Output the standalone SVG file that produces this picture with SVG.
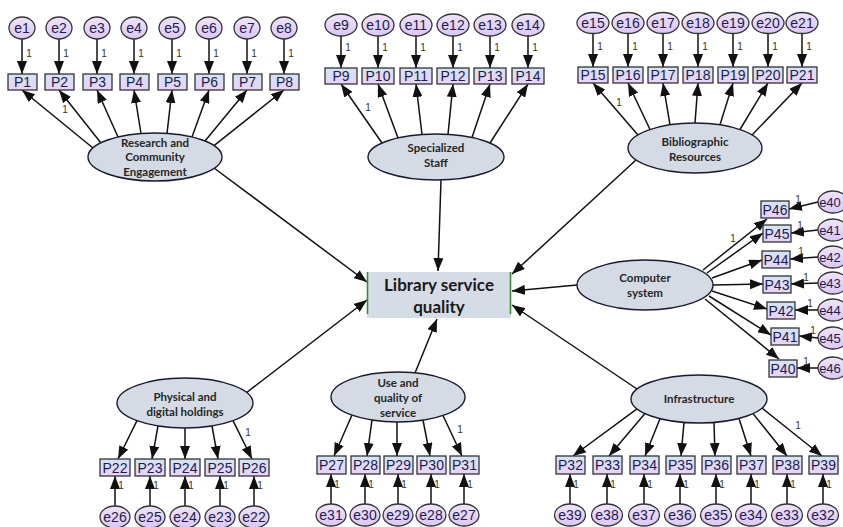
<svg xmlns="http://www.w3.org/2000/svg" width="843" height="527" viewBox="0 0 843 527">
<defs>
<linearGradient id="gBox" x1="0" y1="0" x2="0" y2="1"><stop offset="0" stop-color="#d3e4f6"/><stop offset="1" stop-color="#e9d2f6"/></linearGradient>
<linearGradient id="gErr" x1="0" y1="0" x2="0" y2="1"><stop offset="0" stop-color="#efe4fb"/><stop offset="1" stop-color="#dcc6f2"/></linearGradient>
<marker id="ah" markerUnits="userSpaceOnUse" markerWidth="13" markerHeight="10" refX="13" refY="5" orient="auto"><path d="M0,0 L13,5 L0,10 z" fill="#111"/></marker>
<style>
.c line{stroke:#111;stroke-width:1.5;marker-end:url(#ah)}
.obs rect{fill:url(#gBox);stroke:#333;stroke-width:1.3}
.err ellipse{fill:url(#gErr);stroke:#333;stroke-width:1.3}
.obs text,.err text{font-family:"Liberation Sans",Arial,sans-serif;font-size:14px;fill:#1c1c4e;text-anchor:middle;dominant-baseline:central}
.err text.edge{font-size:13px}
.lat ellipse{fill:#d5dbe5;stroke:#1a1a2e;stroke-width:1.4}
.lat text{font-family:Lato,"Open Sans",sans-serif;font-weight:bold;font-size:11.5px;fill:#262626;text-anchor:middle}
.w{font-family:"Liberation Sans",Arial,sans-serif;font-size:10px;fill:#333;text-anchor:middle;dominant-baseline:central}
</style>
</defs>
<rect width="843" height="527" fill="#fff"/>

<g id="connectors" class="c">
<line x1="214" y1="168" x2="367" y2="282"/>
<line x1="246" y1="393" x2="367" y2="300"/>
<line x1="441" y1="180" x2="438" y2="271"/>
<line x1="415" y1="373" x2="437" y2="319"/>
<line x1="636" y1="160" x2="512" y2="274"/>
<line x1="577" y1="285" x2="512" y2="291"/>
<line x1="637" y1="389" x2="512" y2="305"/>
<line x1="93" y1="148" x2="22" y2="90"/>
<line x1="101" y1="143" x2="59" y2="90"/>
<line x1="118" y1="137" x2="97" y2="90"/>
<line x1="141" y1="133.5" x2="134" y2="90"/>
<line x1="167" y1="133.4" x2="172" y2="90"/>
<line x1="192" y1="137" x2="209" y2="90"/>
<line x1="205" y1="141" x2="247" y2="90"/>
<line x1="214" y1="145.6" x2="284" y2="90"/>
<line x1="22" y1="38.5" x2="22" y2="74"/>
<line x1="59" y1="38.5" x2="59" y2="74"/>
<line x1="97" y1="38.5" x2="97" y2="74"/>
<line x1="134" y1="38.5" x2="134" y2="74"/>
<line x1="172" y1="38.5" x2="172" y2="74"/>
<line x1="209" y1="38.5" x2="209" y2="74"/>
<line x1="247" y1="38.5" x2="247" y2="74"/>
<line x1="284" y1="38.5" x2="284" y2="74"/>
<line x1="382" y1="143" x2="341" y2="84"/>
<line x1="398" y1="138" x2="378" y2="84"/>
<line x1="422" y1="134.5" x2="416" y2="84"/>
<line x1="448" y1="134.4" x2="453" y2="84"/>
<line x1="472" y1="137.5" x2="490" y2="84"/>
<line x1="490" y1="143" x2="528" y2="84"/>
<line x1="341" y1="35.5" x2="341" y2="68"/>
<line x1="378" y1="35.5" x2="378" y2="68"/>
<line x1="416" y1="35.5" x2="416" y2="68"/>
<line x1="453" y1="35.5" x2="453" y2="68"/>
<line x1="490" y1="35.5" x2="490" y2="68"/>
<line x1="528" y1="35.5" x2="528" y2="68"/>
<line x1="638" y1="135" x2="593" y2="83"/>
<line x1="650" y1="129.5" x2="628" y2="83"/>
<line x1="670" y1="124.8" x2="663" y2="83"/>
<line x1="695" y1="123" x2="698" y2="83"/>
<line x1="720" y1="124.8" x2="733" y2="83"/>
<line x1="740" y1="129.5" x2="768" y2="83"/>
<line x1="752" y1="135" x2="802" y2="83"/>
<line x1="593" y1="33" x2="593" y2="67"/>
<line x1="628" y1="33" x2="628" y2="67"/>
<line x1="663" y1="33" x2="663" y2="67"/>
<line x1="698" y1="33" x2="698" y2="67"/>
<line x1="733" y1="33" x2="733" y2="67"/>
<line x1="768" y1="33" x2="768" y2="67"/>
<line x1="802" y1="33" x2="802" y2="67"/>
<line x1="703" y1="270" x2="767" y2="219"/>
<line x1="707" y1="273" x2="763" y2="233"/>
<line x1="712" y1="278" x2="762" y2="260"/>
<line x1="713" y1="285" x2="763" y2="284"/>
<line x1="712" y1="291" x2="767" y2="309"/>
<line x1="709" y1="296" x2="771" y2="335"/>
<line x1="705" y1="299" x2="779" y2="359"/>
<line x1="818" y1="202" x2="789" y2="209"/>
<line x1="818" y1="230" x2="791" y2="233"/>
<line x1="818" y1="257" x2="790" y2="259"/>
<line x1="818" y1="283" x2="791" y2="284"/>
<line x1="818" y1="310" x2="795" y2="310"/>
<line x1="818" y1="338" x2="799" y2="336"/>
<line x1="818" y1="368" x2="797" y2="368"/>
<line x1="137" y1="420.7" x2="118" y2="459"/>
<line x1="158" y1="426" x2="152" y2="459"/>
<line x1="185" y1="428" x2="185" y2="459"/>
<line x1="212" y1="426" x2="218" y2="459"/>
<line x1="233" y1="420.7" x2="252" y2="459"/>
<line x1="115" y1="506" x2="115" y2="476"/>
<line x1="150" y1="506" x2="150" y2="476"/>
<line x1="185" y1="506" x2="185" y2="476"/>
<line x1="220" y1="506" x2="220" y2="476"/>
<line x1="254" y1="506" x2="254" y2="476"/>
<line x1="352" y1="415" x2="334" y2="456"/>
<line x1="372" y1="420" x2="367" y2="456"/>
<line x1="397" y1="422" x2="397" y2="456"/>
<line x1="423" y1="420" x2="430" y2="456"/>
<line x1="443" y1="415.5" x2="462" y2="456"/>
<line x1="331" y1="504" x2="331" y2="474"/>
<line x1="365" y1="504" x2="365" y2="474"/>
<line x1="398" y1="504" x2="398" y2="474"/>
<line x1="431" y1="504" x2="431" y2="474"/>
<line x1="464" y1="504" x2="464" y2="474"/>
<line x1="637" y1="408.9" x2="573" y2="456"/>
<line x1="645" y1="413.6" x2="609" y2="456"/>
<line x1="660" y1="418.7" x2="645" y2="456"/>
<line x1="684" y1="422.4" x2="681" y2="456"/>
<line x1="714" y1="422.4" x2="715" y2="456"/>
<line x1="739" y1="418.4" x2="751" y2="456"/>
<line x1="753" y1="413.6" x2="787" y2="456"/>
<line x1="762" y1="408" x2="822" y2="456"/>
<line x1="570" y1="504" x2="570" y2="474"/>
<line x1="607" y1="504" x2="607" y2="474"/>
<line x1="644" y1="504" x2="644" y2="474"/>
<line x1="680" y1="504" x2="680" y2="474"/>
<line x1="716" y1="504" x2="716" y2="474"/>
<line x1="751" y1="504" x2="751" y2="474"/>
<line x1="787" y1="504" x2="787" y2="474"/>
<line x1="823" y1="504" x2="823" y2="474"/>
</g>

<g id="weights">
<text class="w" x="65" y="109">1</text>
<text class="w" x="29" y="53">1</text><text class="w" x="66" y="53">1</text><text class="w" x="104" y="53">1</text><text class="w" x="141" y="53">1</text><text class="w" x="179" y="53">1</text><text class="w" x="216" y="53">1</text><text class="w" x="254" y="53">1</text><text class="w" x="291" y="53">1</text>
<text class="w" x="368" y="107">1</text>
<text class="w" x="348" y="47">1</text><text class="w" x="385" y="47">1</text><text class="w" x="423" y="47">1</text><text class="w" x="460" y="47">1</text><text class="w" x="497" y="47">1</text><text class="w" x="535" y="47">1</text>
<text class="w" x="619" y="102">1</text>
<text class="w" x="600" y="46">1</text><text class="w" x="635" y="46">1</text><text class="w" x="670" y="46">1</text><text class="w" x="705" y="46">1</text><text class="w" x="740" y="46">1</text><text class="w" x="775" y="46">1</text><text class="w" x="809" y="46">1</text>
<text class="w" x="733" y="238">1</text>
<text class="w" x="798" y="199">1</text><text class="w" x="800" y="225">1</text><text class="w" x="801" y="251">1</text><text class="w" x="806" y="277">1</text><text class="w" x="810" y="303">1</text><text class="w" x="813" y="330">1</text><text class="w" x="806" y="361">1</text>
<text class="w" x="248" y="432">1</text>
<text class="w" x="121" y="485">1</text><text class="w" x="156" y="485">1</text><text class="w" x="191" y="485">1</text><text class="w" x="226" y="485">1</text><text class="w" x="260" y="485">1</text>
<text class="w" x="460" y="429">1</text>
<text class="w" x="337" y="484">1</text><text class="w" x="371" y="484">1</text><text class="w" x="404" y="484">1</text><text class="w" x="437" y="484">1</text><text class="w" x="470" y="484">1</text>
<text class="w" x="798" y="425">1</text>
<text class="w" x="576" y="484">1</text><text class="w" x="613" y="484">1</text><text class="w" x="650" y="484">1</text><text class="w" x="686" y="484">1</text><text class="w" x="722" y="484">1</text><text class="w" x="757" y="484">1</text><text class="w" x="793" y="484">1</text><text class="w" x="829" y="484">1</text>
</g>

<g id="quality">
<rect x="367" y="272" width="144" height="46" fill="#d6dce5"/>
<line x1="367.5" y1="272" x2="367.5" y2="314" stroke="#3a8a3a" stroke-width="1.6"/>
<line x1="510.5" y1="272" x2="510.5" y2="314" stroke="#3a8a3a" stroke-width="1.6"/>
<text x="439" y="291" font-family="Lato,'Open Sans',sans-serif" font-weight="bold" font-size="17" fill="#1a1a1a" text-anchor="middle">Library service</text>
<text x="439" y="313" font-family="Lato,'Open Sans',sans-serif" font-weight="bold" font-size="17" fill="#1a1a1a" text-anchor="middle">quality</text>
</g>

<g id="research" class="lat"><ellipse cx="155" cy="157" rx="67" ry="24"/><text x="155" y="147">Research and</text><text x="155" y="161">Community</text><text x="155" y="176">Engagement</text></g>
<g id="specialized" class="lat"><ellipse cx="436" cy="157" rx="68" ry="23"/><text x="436" y="152">Specialized</text><text x="436" y="167">Staff</text></g>
<g id="bibliographic" class="lat"><ellipse cx="695" cy="148" rx="67" ry="25"/><text x="695" y="146">Bibliographic</text><text x="695" y="161">Resources</text></g>
<g id="computer" class="lat"><ellipse cx="645" cy="285" rx="68" ry="25"/><text x="645" y="282">Computer</text><text x="645" y="297">system</text></g>
<g id="physical" class="lat"><ellipse cx="185" cy="403" rx="68" ry="25"/><text x="185" y="401">Physical and</text><text x="185" y="416">digital holdings</text></g>
<g id="use" class="lat"><ellipse cx="398" cy="397" rx="67" ry="25"/><text x="398" y="387">Use and</text><text x="398" y="402">quality of</text><text x="398" y="417">service</text></g>
<g id="infrastructure" class="lat"><ellipse cx="699" cy="399" rx="68" ry="24"/><text x="699" y="403">Infrastructure</text></g>

<g id="e1" class="err"><ellipse cx="22" cy="28" rx="13" ry="11"/><text x="22" y="28">e1</text></g>
<g id="e2" class="err"><ellipse cx="59" cy="28" rx="13" ry="11"/><text x="59" y="28">e2</text></g>
<g id="e3" class="err"><ellipse cx="97" cy="28" rx="13" ry="11"/><text x="97" y="28">e3</text></g>
<g id="e4" class="err"><ellipse cx="134" cy="28" rx="13" ry="11"/><text x="134" y="28">e4</text></g>
<g id="e5" class="err"><ellipse cx="172" cy="28" rx="13" ry="11"/><text x="172" y="28">e5</text></g>
<g id="e6" class="err"><ellipse cx="209" cy="28" rx="13" ry="11"/><text x="209" y="28">e6</text></g>
<g id="e7" class="err"><ellipse cx="247" cy="28" rx="13" ry="11"/><text x="247" y="28">e7</text></g>
<g id="e8" class="err"><ellipse cx="284" cy="28" rx="13" ry="11"/><text x="284" y="28">e8</text></g>
<g id="P1" class="obs"><rect x="8" y="74" width="29" height="16"/><text x="22.5" y="82">P1</text></g>
<g id="P2" class="obs"><rect x="45" y="74" width="29" height="16"/><text x="59.5" y="82">P2</text></g>
<g id="P3" class="obs"><rect x="83" y="74" width="29" height="16"/><text x="97.5" y="82">P3</text></g>
<g id="P4" class="obs"><rect x="120" y="74" width="29" height="16"/><text x="134.5" y="82">P4</text></g>
<g id="P5" class="obs"><rect x="158" y="74" width="29" height="16"/><text x="172.5" y="82">P5</text></g>
<g id="P6" class="obs"><rect x="195" y="74" width="29" height="16"/><text x="209.5" y="82">P6</text></g>
<g id="P7" class="obs"><rect x="233" y="74" width="29" height="16"/><text x="247.5" y="82">P7</text></g>
<g id="P8" class="obs"><rect x="270" y="74" width="29" height="16"/><text x="284.5" y="82">P8</text></g>

<g id="e9" class="err"><ellipse cx="341" cy="25" rx="16" ry="11"/><text x="341" y="25">e9</text></g>
<g id="e10" class="err"><ellipse cx="378" cy="25" rx="16" ry="11"/><text x="378" y="25">e10</text></g>
<g id="e11" class="err"><ellipse cx="416" cy="25" rx="16" ry="11"/><text x="416" y="25">e11</text></g>
<g id="e12" class="err"><ellipse cx="453" cy="25" rx="16" ry="11"/><text x="453" y="25">e12</text></g>
<g id="e13" class="err"><ellipse cx="490" cy="25" rx="16" ry="11"/><text x="490" y="25">e13</text></g>
<g id="e14" class="err"><ellipse cx="528" cy="25" rx="16" ry="11"/><text x="528" y="25">e14</text></g>
<g id="P9" class="obs"><rect x="325" y="68" width="32" height="16"/><text x="341" y="76">P9</text></g>
<g id="P10" class="obs"><rect x="362" y="68" width="32" height="16"/><text x="378" y="76">P10</text></g>
<g id="P11" class="obs"><rect x="400" y="68" width="32" height="16"/><text x="416" y="76">P11</text></g>
<g id="P12" class="obs"><rect x="437" y="68" width="32" height="16"/><text x="453" y="76">P12</text></g>
<g id="P13" class="obs"><rect x="474" y="68" width="32" height="16"/><text x="490" y="76">P13</text></g>
<g id="P14" class="obs"><rect x="512" y="68" width="32" height="16"/><text x="528" y="76">P14</text></g>

<g id="e15" class="err"><ellipse cx="593" cy="23" rx="16" ry="10.5"/><text x="593" y="23">e15</text></g>
<g id="e16" class="err"><ellipse cx="628" cy="23" rx="16" ry="10.5"/><text x="628" y="23">e16</text></g>
<g id="e17" class="err"><ellipse cx="663" cy="23" rx="16" ry="10.5"/><text x="663" y="23">e17</text></g>
<g id="e18" class="err"><ellipse cx="698" cy="23" rx="16" ry="10.5"/><text x="698" y="23">e18</text></g>
<g id="e19" class="err"><ellipse cx="733" cy="23" rx="16" ry="10.5"/><text x="733" y="23">e19</text></g>
<g id="e20" class="err"><ellipse cx="768" cy="23" rx="16" ry="10.5"/><text x="768" y="23">e20</text></g>
<g id="e21" class="err"><ellipse cx="802" cy="23" rx="16" ry="10.5"/><text x="802" y="23">e21</text></g>
<g id="P15" class="obs"><rect x="578" y="67" width="30" height="16"/><text x="593" y="75">P15</text></g>
<g id="P16" class="obs"><rect x="613" y="67" width="30" height="16"/><text x="628" y="75">P16</text></g>
<g id="P17" class="obs"><rect x="648" y="67" width="30" height="16"/><text x="663" y="75">P17</text></g>
<g id="P18" class="obs"><rect x="683" y="67" width="30" height="16"/><text x="698" y="75">P18</text></g>
<g id="P19" class="obs"><rect x="718" y="67" width="30" height="16"/><text x="733" y="75">P19</text></g>
<g id="P20" class="obs"><rect x="753" y="67" width="30" height="16"/><text x="768" y="75">P20</text></g>
<g id="P21" class="obs"><rect x="787" y="67" width="30" height="16"/><text x="802" y="75">P21</text></g>

<g id="P46" class="obs"><rect x="761" y="201" width="28" height="17"/><text x="775" y="209.5">P46</text></g>
<g id="P45" class="obs"><rect x="763" y="225" width="28" height="17"/><text x="777" y="233.5">P45</text></g>
<g id="P44" class="obs"><rect x="762" y="251" width="28" height="17"/><text x="776" y="259.5">P44</text></g>
<g id="P43" class="obs"><rect x="763" y="276" width="28" height="17"/><text x="777" y="284.5">P43</text></g>
<g id="P42" class="obs"><rect x="767" y="302" width="28" height="17"/><text x="781" y="310.5">P42</text></g>
<g id="P41" class="obs"><rect x="771" y="328" width="28" height="17"/><text x="785" y="336.5">P41</text></g>
<g id="P40" class="obs"><rect x="769" y="360" width="28" height="17"/><text x="783" y="368.5">P40</text></g>
<g id="e40" class="err"><ellipse cx="833" cy="202" rx="15" ry="11"/><text class="edge" x="830" y="202">e40</text></g>
<g id="e41" class="err"><ellipse cx="833" cy="230" rx="15" ry="11"/><text class="edge" x="830" y="230">e41</text></g>
<g id="e42" class="err"><ellipse cx="833" cy="257" rx="15" ry="11"/><text class="edge" x="830" y="257">e42</text></g>
<g id="e43" class="err"><ellipse cx="833" cy="283" rx="15" ry="11"/><text class="edge" x="830" y="283">e43</text></g>
<g id="e44" class="err"><ellipse cx="833" cy="310" rx="15" ry="11"/><text class="edge" x="830" y="310">e44</text></g>
<g id="e45" class="err"><ellipse cx="833" cy="338" rx="15" ry="11"/><text class="edge" x="830" y="338">e45</text></g>
<g id="e46" class="err"><ellipse cx="833" cy="368" rx="15" ry="11"/><text class="edge" x="830" y="368">e46</text></g>

<g id="P22" class="obs"><rect x="100" y="459" width="30" height="17"/><text x="115" y="467.5">P22</text></g>
<g id="P23" class="obs"><rect x="135" y="459" width="30" height="17"/><text x="150" y="467.5">P23</text></g>
<g id="P24" class="obs"><rect x="170" y="459" width="30" height="17"/><text x="185" y="467.5">P24</text></g>
<g id="P25" class="obs"><rect x="205" y="459" width="30" height="17"/><text x="220" y="467.5">P25</text></g>
<g id="P26" class="obs"><rect x="239" y="459" width="30" height="17"/><text x="254" y="467.5">P26</text></g>
<g id="e26" class="err"><ellipse cx="115" cy="517" rx="15" ry="11"/><text x="115" y="517">e26</text></g>
<g id="e25" class="err"><ellipse cx="150" cy="517" rx="15" ry="11"/><text x="150" y="517">e25</text></g>
<g id="e24" class="err"><ellipse cx="185" cy="517" rx="15" ry="11"/><text x="185" y="517">e24</text></g>
<g id="e23" class="err"><ellipse cx="220" cy="517" rx="15" ry="11"/><text x="220" y="517">e23</text></g>
<g id="e22" class="err"><ellipse cx="254" cy="517" rx="15" ry="11"/><text x="254" y="517">e22</text></g>

<g id="P27" class="obs"><rect x="317" y="456" width="29" height="18"/><text x="331.5" y="465">P27</text></g>
<g id="P28" class="obs"><rect x="351" y="456" width="29" height="18"/><text x="365.5" y="465">P28</text></g>
<g id="P29" class="obs"><rect x="384" y="456" width="29" height="18"/><text x="398.5" y="465">P29</text></g>
<g id="P30" class="obs"><rect x="417" y="456" width="29" height="18"/><text x="431.5" y="465">P30</text></g>
<g id="P31" class="obs"><rect x="450" y="456" width="29" height="18"/><text x="464.5" y="465">P31</text></g>
<g id="e31" class="err"><ellipse cx="331" cy="515" rx="15" ry="11"/><text x="331" y="515">e31</text></g>
<g id="e30" class="err"><ellipse cx="365" cy="515" rx="15" ry="11"/><text x="365" y="515">e30</text></g>
<g id="e29" class="err"><ellipse cx="398" cy="515" rx="15" ry="11"/><text x="398" y="515">e29</text></g>
<g id="e28" class="err"><ellipse cx="431" cy="515" rx="15" ry="11"/><text x="431" y="515">e28</text></g>
<g id="e27" class="err"><ellipse cx="464" cy="515" rx="15" ry="11"/><text x="464" y="515">e27</text></g>

<g id="P32" class="obs"><rect x="556" y="456" width="29" height="18"/><text x="570.5" y="465">P32</text></g>
<g id="P33" class="obs"><rect x="593" y="456" width="29" height="18"/><text x="607.5" y="465">P33</text></g>
<g id="P34" class="obs"><rect x="630" y="456" width="29" height="18"/><text x="644.5" y="465">P34</text></g>
<g id="P35" class="obs"><rect x="666" y="456" width="29" height="18"/><text x="680.5" y="465">P35</text></g>
<g id="P36" class="obs"><rect x="702" y="456" width="29" height="18"/><text x="716.5" y="465">P36</text></g>
<g id="P37" class="obs"><rect x="737" y="456" width="29" height="18"/><text x="751.5" y="465">P37</text></g>
<g id="P38" class="obs"><rect x="773" y="456" width="29" height="18"/><text x="787.5" y="465">P38</text></g>
<g id="P39" class="obs"><rect x="809" y="456" width="29" height="18"/><text x="823.5" y="465">P39</text></g>
<g id="e39" class="err"><ellipse cx="570" cy="515" rx="15.5" ry="11"/><text x="570" y="515">e39</text></g>
<g id="e38" class="err"><ellipse cx="607" cy="515" rx="15.5" ry="11"/><text x="607" y="515">e38</text></g>
<g id="e37" class="err"><ellipse cx="644" cy="515" rx="15.5" ry="11"/><text x="644" y="515">e37</text></g>
<g id="e36" class="err"><ellipse cx="680" cy="515" rx="15.5" ry="11"/><text x="680" y="515">e36</text></g>
<g id="e35" class="err"><ellipse cx="716" cy="515" rx="15.5" ry="11"/><text x="716" y="515">e35</text></g>
<g id="e34" class="err"><ellipse cx="751" cy="515" rx="15.5" ry="11"/><text x="751" y="515">e34</text></g>
<g id="e33" class="err"><ellipse cx="787" cy="515" rx="15.5" ry="11"/><text x="787" y="515">e33</text></g>
<g id="e32" class="err"><ellipse cx="823" cy="515" rx="15.5" ry="11"/><text x="823" y="515">e32</text></g>
</svg>
